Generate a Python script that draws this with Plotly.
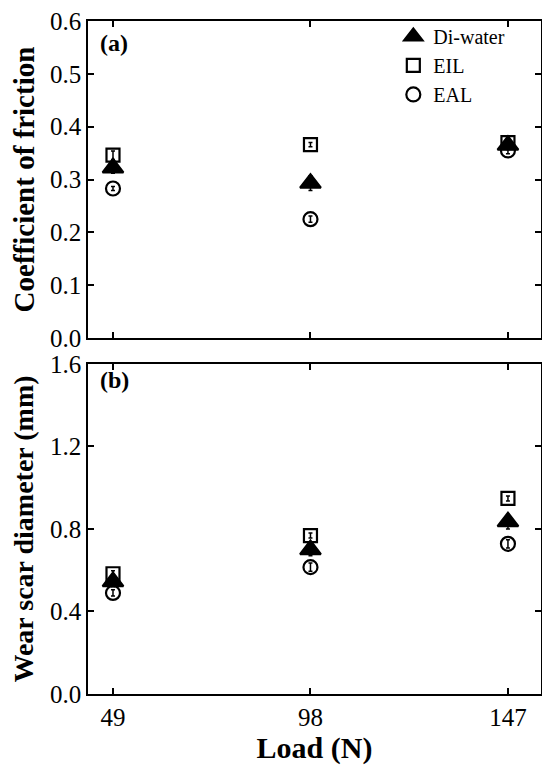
import plotly.graph_objects as go
from plotly.subplots import make_subplots

loads = [49, 98, 147]

# (a) coefficient of friction
cof_water = [0.322, 0.293, 0.365]
cof_eil = [0.346, 0.366, 0.370]
cof_eal = [0.283, 0.225, 0.355]
cof_water_err = [0.010, 0.014, 0.008]
cof_eil_err = [0.008, 0.004, 0.006]
cof_eal_err = [0.004, 0.006, 0.006]

# (b) wear scar diameter
wsd_water = [0.545, 0.700, 0.835]
wsd_eil = [0.583, 0.768, 0.948]
wsd_eal = [0.490, 0.615, 0.728]
wsd_water_err = [0.025, 0.030, 0.035]
wsd_eil_err = [0.015, 0.012, 0.012]
wsd_eal_err = [0.015, 0.020, 0.020]

names = ["Di-water", "EIL", "EAL"]
symbols = ["triangle-up", "square-open", "circle-open"]
sizes = [18, 13, 14]

FONT = "Liberation Serif, Times New Roman, serif"

fig = make_subplots(rows=2, cols=1, shared_xaxes=False, vertical_spacing=0.04)

panels = [
    (1, [cof_water, cof_eil, cof_eal], [cof_water_err, cof_eil_err, cof_eal_err]),
    (2, [wsd_water, wsd_eil, wsd_eal], [wsd_water_err, wsd_eil_err, wsd_eal_err]),
]
for row, ys, errs in panels:
    for i in range(3):
        fig.add_trace(go.Scatter(
            x=loads, y=ys[i], mode="markers", name=names[i],
            showlegend=(row == 1),
            marker=dict(symbol=symbols[i], size=sizes[i], color="black",
                        line=dict(width=2.2, color="black")),
            error_y=dict(type="data", array=errs[i], color="black",
                         thickness=1.5, width=2),
        ), row=row, col=1)

axis_common = dict(
    showline=True, linecolor="black", linewidth=1.5, mirror="ticks",
    ticks="inside", ticklen=6, tickwidth=1.5, tickcolor="black",
    showgrid=False, zeroline=False, automargin=False,
    ticklabeloverflow="allow",
    tickfont=dict(family=FONT, size=25, color="black"),
)

fig.update_xaxes(**axis_common, range=[42.8, 155.2], tickvals=loads)
fig.update_xaxes(showticklabels=False, row=1, col=1)
fig.update_xaxes(title=dict(text="<b>Load (N)</b>", font=dict(family=FONT, size=30, color="black"),
                            standoff=3), row=2, col=1)

fig.update_yaxes(**axis_common)
fig.update_yaxes(range=[0, 0.6], tickvals=[0, 0.1, 0.2, 0.3, 0.4, 0.5, 0.6],
                 tickformat=".1f",
                 title=dict(text="<b>Coefficient of friction</b>",
                            font=dict(family=FONT, size=29, color="black"), standoff=20),
                 domain=[0.5289, 1.0], row=1, col=1)
fig.update_yaxes(range=[0, 1.6], tickvals=[0, 0.4, 0.8, 1.2, 1.6],
                 tickformat=".1f",
                 title=dict(text="<b>Wear scar diameter (mm)</b>",
                            font=dict(family=FONT, size=28, color="black"), standoff=20),
                 domain=[0.0, 0.4904], row=2, col=1)

fig.add_annotation(text="<b>(a)</b>", xref="paper", yref="paper", x=0.022, y=0.968,
                   xanchor="left", yanchor="middle", showarrow=False,
                   font=dict(family=FONT, size=24, color="black"))
fig.add_annotation(text="<b>(b)</b>", xref="paper", yref="paper", x=0.022, y=0.467,
                   xanchor="left", yanchor="middle", showarrow=False,
                   font=dict(family=FONT, size=24, color="black"))

# the page adds an 8px body margin, so the figure is drawn 8px smaller and shifted
fig.update_layout(
    width=542, height=762,
    margin=dict(l=80, r=9, t=11, b=76),
    plot_bgcolor="white", paper_bgcolor="white",
    font=dict(family=FONT, color="black"),
    legend=dict(x=0.674, y=1.006, xanchor="left", yanchor="top",
                bgcolor="rgba(0,0,0,0)", borderwidth=0,
                font=dict(family=FONT, size=20, color="black"),
                tracegroupgap=0, itemsizing="trace"),
)

fig.write_html("out.html")
